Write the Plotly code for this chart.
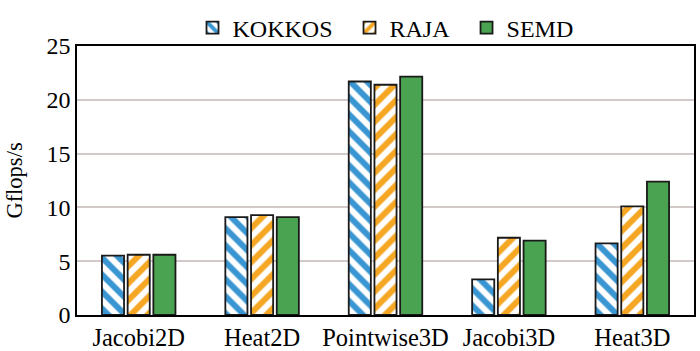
import plotly.graph_objects as go

categories = ["Jacobi2D", "Heat2D", "Pointwise3D", "Jacobi3D", "Heat3D"]
series_names = ["KOKKOS", "RAJA", "SEMD"]
kokkos = [5.52, 9.1, 21.7, 3.31, 6.65]
raja = [5.6, 9.28, 21.4, 7.18, 10.1]
semd = [5.6, 9.1, 22.16, 6.91, 12.4]
y_ticks = [0, 5, 10, 15, 20, 25]

font = "Liberation Serif, Times New Roman, serif"
pad = "\u00a0\u00a0"

fig = go.Figure()
fig.add_trace(go.Bar(
    name=series_names[0] + pad, x=categories, y=kokkos,
    marker=dict(color="white", line=dict(color="#1a1a1a", width=1.8),
                pattern=dict(shape="\\", fgcolor="#3a96d2", bgcolor="white",
                             fgopacity=1, size=12, solidity=0.5)),
))
fig.add_trace(go.Bar(
    name=series_names[1] + pad, x=categories, y=raja,
    marker=dict(color="white", line=dict(color="#1a1a1a", width=1.8),
                pattern=dict(shape="/", fgcolor="#f5a623", bgcolor="white",
                             fgopacity=1, size=12, solidity=0.5)),
))
fig.add_trace(go.Bar(
    name=series_names[2], x=categories, y=semd,
    marker=dict(color="#4aa351", line=dict(color="#1a1a1a", width=1.8)),
))

fig.update_layout(
    width=700, height=351,
    margin=dict(l=77, r=6, t=33, b=36),
    paper_bgcolor="white", plot_bgcolor="white",
    barmode="group", bargap=0.375, bargroupgap=0.14,
    font=dict(family=font, color="black", size=22),
    legend=dict(orientation="h", x=0.5, xanchor="center", y=1.067, yanchor="middle",
                font=dict(family=font, size=24), itemwidth=30,
                bgcolor="rgba(0,0,0,0)", traceorder="normal"),
    showlegend=True,
)
fig.update_xaxes(
    showline=True, linecolor="black", linewidth=1.5, mirror=True,
    ticks="", tickfont=dict(family=font, size=24.5), showgrid=False,
    automargin=False,
)
fig.update_yaxes(
    range=[0, 25], tickvals=y_ticks, showline=True, linecolor="black",
    linewidth=1.5, mirror=True, ticks="", showgrid=True, gridcolor="#d3c9c9",
    gridwidth=1.5, zeroline=False, tickfont=dict(family=font, size=24),
    title=dict(text="Gflops/s", font=dict(family=font, size=22.5), standoff=18),
    automargin=False,
)

fig.write_html("out.html")
